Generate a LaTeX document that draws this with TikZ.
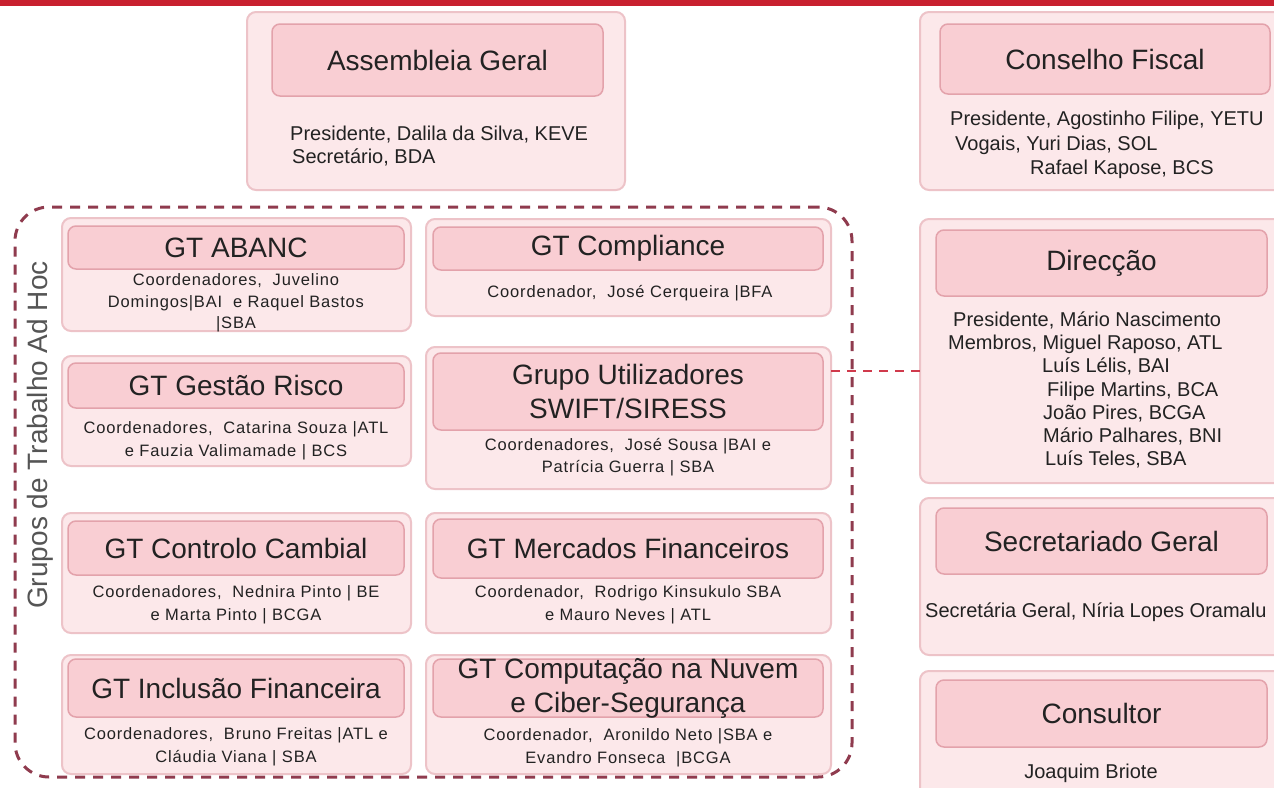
\documentclass[tikz,border=0pt]{standalone}
\usepackage{fontspec}
\setmainfont{Liberation Sans}
\newfontfamily\gtfont[LetterSpace=5]{Liberation Sans}
\definecolor{topbar}{HTML}{C8202F}
\definecolor{outerfill}{HTML}{FCE8EA}
\definecolor{outerdraw}{HTML}{EDC3C8}
\definecolor{innerfill}{HTML}{F9CED3}
\definecolor{innerdraw}{HTML}{E3A2AB}
\definecolor{dashcol}{HTML}{8F3B4E}
\definecolor{linkcol}{HTML}{D03A4C}
\definecolor{txt}{HTML}{222222}
\definecolor{sidetxt}{HTML}{555555}
\newcommand\mkbox[6]{\node[#1, minimum width={(#5)-(#3)}, minimum height={(#6)-(#4)}] (#2) at ({((#3)+(#5))/2},{((#4)+(#6))/2}) {};}
\tikzset{
  outerbox/.style={draw=outerdraw, fill=outerfill, line width=2pt, rounded corners=9pt, inner sep=0pt, outer sep=0pt},
  innerbox/.style={draw=innerdraw, fill=innerfill, line width=1.5pt, rounded corners=8pt, inner sep=0pt, outer sep=0pt},
  ttl/.style={font=\fontsize{28}{34}\selectfont, text=txt, align=center, inner sep=0pt},
  bodytxt/.style={font=\fontsize{20}{23.5}\selectfont, text=txt, align=left, inner sep=0pt, anchor=west},
  gttxt/.style={font=\gtfont\fontsize{16.5}{22.5}\selectfont, text=txt, align=center, inner sep=0pt},
  dashline/.style={draw=dashcol, line width=3pt, dash pattern=on 10pt off 8pt},
  linkline/.style={draw=linkcol, line width=2.5pt, dash pattern=on 9pt off 7pt},
}
\begin{document}
\begin{tikzpicture}[x=1pt,y=-1pt]
\useasboundingbox (0,0) rectangle (1274,787);
\fill[white] (0,0) rectangle (1274,787);
\fill[topbar] (0,0) rectangle (1274,6);

% group container
\node[dashline, rounded corners=34pt, minimum width=837, minimum height=570, inner sep=0pt] (grp) at (433.5,492) {};
\node[rotate=90, font=\fontsize{28}{34}\selectfont, text=sidetxt, inner sep=0pt] (grplbl) at (40,435) {Grupos de Trabalho Ad Hoc};

% Assembleia Geral
\mkbox{outerbox}{ago}{247}{12}{625}{190}
\mkbox{innerbox}{agi}{272}{24}{603}{96}
\node[ttl] (agt) at (agi) {Assembleia Geral};
\node[bodytxt] (agb) at (290,146) {Presidente, Dalila da Silva, KEVE\\\hspace*{2pt}Secretário, BDA};

% Conselho Fiscal
\mkbox{outerbox}{cfo}{920}{12}{1285}{190}
\mkbox{innerbox}{cfi}{940}{24}{1270}{94}
\node[ttl] (cft) at (cfi) {Conselho Fiscal};
\node[bodytxt, font=\fontsize{20}{24.5}\selectfont] (cfb) at (950,145) {Presidente, Agostinho Filipe, YETU\\\hspace*{5pt}Vogais, Yuri Dias, SOL\\\hspace*{80pt}Rafael Kapose, BCS};

% GT ABANC
\mkbox{outerbox}{abo}{62}{218}{411}{331}
\mkbox{innerbox}{abi}{68}{226}{404}{269}
\node[ttl] (abt) at (abi) {GT ABANC};
\node[gttxt, font=\gtfont\fontsize{16.5}{21.5}\selectfont] (abb) at (236,303) {Coordenadores,\ \ Juvelino\\Domingos|BAI\ \ e Raquel Bastos\\|SBA};

% GT Compliance
\mkbox{outerbox}{coo}{426}{219}{831}{316}
\mkbox{innerbox}{coi}{433}{227}{823}{270}
\node[ttl] (cot) at (coi) {GT Compliance};
\node[gttxt] (cob) at (630,293) {Coordenador,\ \ José Cerqueira |BFA};

% GT Gestao Risco
\mkbox{outerbox}{gro}{62}{356}{411}{466}
\mkbox{innerbox}{gri}{68}{363}{404}{408}
\node[ttl] (grt) at (gri) {GT Gestão Risco};
\node[gttxt] (grb) at (236,441) {Coordenadores,\ \ Catarina Souza |ATL\\e Fauzia Valimamade | BCS};

% Grupo Utilizadores
\mkbox{outerbox}{guo}{426}{347}{831}{489}
\mkbox{innerbox}{gui}{433}{353}{823}{430}
\node[ttl] (gut) at (gui) {Grupo Utilizadores\\SWIFT/SIRESS};
\node[gttxt] (gub) at (628,457) {Coordenadores,\ \ José Sousa |BAI e\\Patrícia Guerra | SBA};

% GT Controlo Cambial
\mkbox{outerbox}{cco}{62}{513}{411}{633}
\mkbox{innerbox}{cci}{68}{521}{404}{575}
\node[ttl] (cct) at (cci) {GT Controlo Cambial};
\node[gttxt] (ccb) at (236,605) {Coordenadores,\ \ Nednira Pinto | BE\\e Marta Pinto | BCGA};

% GT Mercados Financeiros
\mkbox{outerbox}{mfo}{426}{513}{831}{633}
\mkbox{innerbox}{mfi}{433}{519}{823}{578}
\node[ttl] (mft) at (mfi) {GT Mercados Financeiros};
\node[gttxt] (mfb) at (628,605) {Coordenador,\ \ Rodrigo Kinsukulo SBA\\e Mauro Neves | ATL};

% GT Inclusao Financeira
\mkbox{outerbox}{ifo}{62}{655}{411}{774}
\mkbox{innerbox}{ifi}{68}{659}{404}{717}
\node[ttl] (ift) at (ifi) {GT Inclusão Financeira};
\node[gttxt] (ifb) at (236,747) {Coordenadores,\ \ Bruno Freitas |ATL e\\Cláudia Viana | SBA};

% GT Computacao na Nuvem
\mkbox{outerbox}{cno}{426}{655}{831}{774}
\mkbox{innerbox}{cni}{433}{659}{823}{717}
\node[ttl] (cnt) at (cni) {GT Computação na Nuvem\\e Ciber-Segurança};
\node[gttxt] (cnb) at (628,748) {Coordenador,\ \ Aronildo Neto |SBA e\\Evandro Fonseca\ \ |BCGA};

% Direccao
\mkbox{outerbox}{dro}{920}{219}{1285}{483}
\mkbox{innerbox}{dri}{936}{230}{1267}{296}
\node[ttl] (drt) at (dri) {Direcção};
\node[bodytxt, font=\fontsize{20}{23.3}\selectfont] (drb) at (948,390) {\hspace*{5pt}Presidente, Mário Nascimento\\Membros, Miguel Raposo, ATL\\\hspace*{94pt}Luís Lélis, BAI\\\hspace*{99pt}Filipe Martins, BCA\\\hspace*{95pt}João Pires, BCGA\\\hspace*{95pt}Mário Palhares, BNI\\\hspace*{97pt}Luís Teles, SBA};

% Secretariado Geral
\mkbox{outerbox}{sgo}{920}{498}{1285}{655}
\mkbox{innerbox}{sgi}{936}{508}{1267}{574}
\node[ttl] (sgt) at (sgi) {Secretariado Geral};
\node[bodytxt] (sgb) at (925,612) {Secretária Geral, Níria Lopes Oramalu};

% Consultor
\mkbox{outerbox}{cso}{920}{671}{1285}{800}
\mkbox{innerbox}{csi}{936}{680}{1267}{747}
\node[ttl] (cst) at (csi) {Consultor};
\node[bodytxt, anchor=center] (csb) at (1091,773) {Joaquim Briote};

% connector
\coordinate (lvl) at (0,371);
\draw[linkline] (guo.east |- lvl) -- (dro.west |- lvl);
\end{tikzpicture}
\end{document}
